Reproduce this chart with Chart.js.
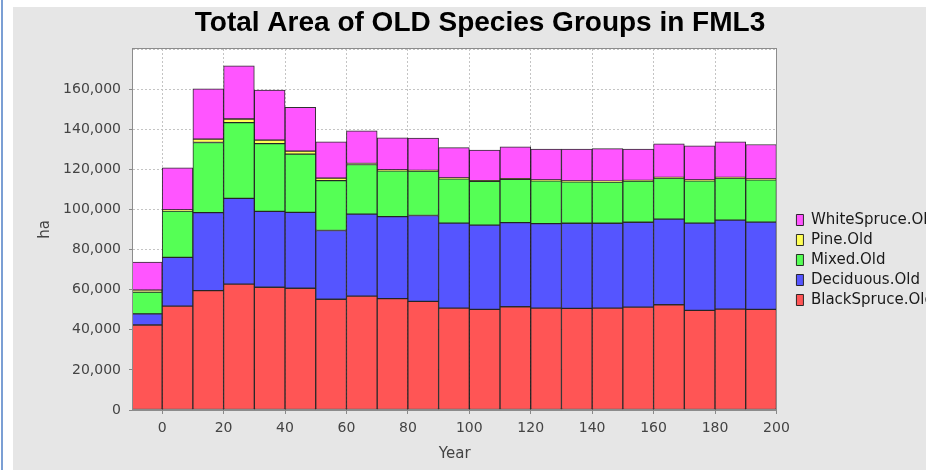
<!DOCTYPE html>
<html>
<head>
<meta charset="utf-8">
<title>Total Area of OLD Species Groups in FML3</title>
<script src="https://cdn.jsdelivr.net/npm/chart.js@4.4.0/dist/chart.umd.min.js"></script>
<style>
  html, body { margin: 0; padding: 0; background: #fff; overflow: hidden; width: 926px; height: 470px; }
  #edge { position: absolute; left: 1px; top: 0; width: 2px; height: 470px; background: #7b9fd4; }
  #chart { position: absolute; left: 13px; top: 7px; background: #e6e6e6; }
</style>
</head>
<body>
<div id="edge"></div>
<canvas id="chart" width="934" height="463"></canvas>
<script>
// each bar covers the 10 years ending at its year
const years = [0, 10, 20, 30, 40, 50, 60, 70, 80, 90, 100, 110, 120, 130, 140, 150, 160, 170, 180, 190, 200];

// area in ha
const blackSpruce = [42400, 51800, 59500, 62800, 61200, 60700, 55200, 56800, 55500, 54200, 50800, 50200, 51500, 50800, 50700, 50800, 51300, 52500, 49700, 50300, 50200];
const deciduous = [5500, 24300, 38900, 42700, 37800, 37800, 34300, 40900, 40900, 42800, 42400, 42000, 41900, 42100, 42400, 42300, 42300, 42700, 43500, 44400, 43500];
const mixed = [10900, 23100, 35000, 37800, 33800, 29100, 24900, 24700, 22900, 22100, 22100, 21800, 21600, 21400, 20700, 20600, 20500, 20400, 21100, 20900, 21100];
const pine = [1000, 600, 1700, 1800, 1800, 1500, 1200, 500, 400, 400, 400, 400, 400, 400, 400, 400, 400, 400, 400, 400, 400];
const whiteSpruce = [14000, 21000, 25100, 26500, 24900, 21800, 18100, 16300, 16000, 16100, 15100, 15200, 15800, 15400, 15900, 16200, 15600, 16700, 17000, 17700, 17200];

const FONT = "'DejaVu Sans', sans-serif";
const Y_MAX = 180000;

function series(values) {
  return values.map((v, i) => ({ x: years[i] - 5, y: v }));
}

function makeSet(label, values, color) {
  return {
    label: label,
    data: series(values),
    backgroundColor: color,
    borderColor: "rgba(25,25,25,0.9)",
    borderWidth: 1,
    borderSkipped: false,
    barPercentage: 1,
    categoryPercentage: 1,
  };
}

// white plot background and grey frame
const plotFrame = {
  id: "plotFrame",
  beforeDraw(chart) {
    const { ctx, chartArea: a } = chart;
    ctx.save();
    ctx.fillStyle = "#ffffff";
    ctx.fillRect(a.left, a.top, a.width, a.height);
    ctx.restore();
  },
  afterDatasetsDraw(chart) {
    const { ctx, chartArea: a } = chart;
    ctx.save();
    ctx.strokeStyle = "#8c8c8c";
    ctx.lineWidth = 1;
    ctx.strokeRect(Math.round(a.left) - 0.5, Math.round(a.top) - 0.5, Math.round(a.width) + 1, Math.round(a.height) + 1);
    ctx.restore();
  },
};

const ctx = document.getElementById("chart").getContext("2d");

new Chart(ctx, {
  type: "bar",
  data: {
    datasets: [
      makeSet("BlackSpruce.Old", blackSpruce, "#ff5555"),
      makeSet("Deciduous.Old", deciduous, "#5555ff"),
      makeSet("Mixed.Old", mixed, "#55ff55"),
      makeSet("Pine.Old", pine, "#ffff55"),
      makeSet("WhiteSpruce.Old", whiteSpruce, "#ff55ff"),
    ],
  },
  options: {
    responsive: false,
    animation: false,
    layout: { padding: 0 },
    plugins: {
      tooltip: { enabled: false },
      title: {
        display: true,
        text: "Total Area of OLD Species Groups in FML3",
        color: "#000",
        font: { family: "'Liberation Sans', Arial, sans-serif", size: 28, weight: "bold", lineHeight: 1 },
        padding: { top: 2, bottom: 12 },
      },
      legend: {
        position: "right",
        align: "center",
        reverse: true,
        title: { display: true, text: "", font: { size: 10, lineHeight: 1 }, padding: { top: 33, bottom: 0 } },
        labels: {
          boxWidth: 7,
          boxHeight: 11,
          padding: 5,
          color: "#1a1a1a",
          font: { family: FONT, size: 15 },
        },
      },
    },
    scales: {
      x: {
        type: "linear",
        stacked: true,
        offset: false,
        min: -9.5,
        max: 200,
        afterFit: (s) => { s.height = 60; },
        ticks: {
          stepSize: 20,
          includeBounds: false,
          autoSkip: false,
          maxRotation: 0,
          color: "#444",
          font: { family: FONT, size: 14 },
          padding: 6,
        },
        grid: { offset: false, color: "#c4c4c4", tickColor: "#888", tickLength: 4, lineWidth: 1 },
        border: { display: false, dash: [2, 2] },
        title: { display: true, text: "Year", color: "#444", font: { family: FONT, size: 15 }, padding: { top: 0, bottom: 7 } },
      },
      y: {
        stacked: true,
        min: 0,
        max: Y_MAX,
        afterFit: (s) => { s.width = 120; },
        ticks: {
          stepSize: 20000,
          includeBounds: false,
          color: "#444",
          font: { family: FONT, size: 14 },
          padding: 8,
          callback: (v) => (v >= Y_MAX ? "" : v.toLocaleString("en-US")),
        },
        grid: {
          color: "#c4c4c4",
          tickColor: (c) => (c.tick && c.tick.value >= Y_MAX ? "rgba(0,0,0,0)" : "#888"),
          tickLength: 4,
          lineWidth: 1,
        },
        border: { display: false, dash: [2, 2] },
        title: { display: true, text: "ha", color: "#444", font: { family: FONT, size: 15 }, padding: { top: 23, bottom: 0 } },
      },
      gap: {
        axis: "y",
        position: "right",
        display: true,
        ticks: { display: false },
        grid: { display: false },
        border: { display: false },
        afterFit: (s) => { s.width = 15; },
      },
    },
  },
  plugins: [plotFrame],
});
</script>
</body>
</html>
